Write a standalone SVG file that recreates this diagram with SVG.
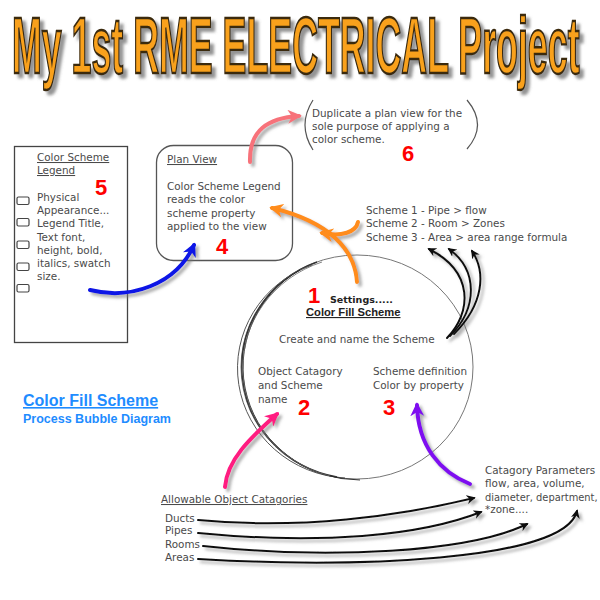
<svg xmlns="http://www.w3.org/2000/svg" width="600" height="600" viewBox="0 0 600 600">
<style>
.t{font-family:"DejaVu Sans","Liberation Sans",sans-serif;font-size:10.4px;fill:#4a4a4a}
.num{font-family:"Liberation Sans",Arial,sans-serif;font-weight:bold;font-size:22px;fill:#ff0000}
.u{text-decoration:underline}
.arr{fill:none;stroke-linecap:round}
</style>
<defs>
<filter id="sh" x="-20%" y="-20%" width="140%" height="140%">
<feDropShadow dx="3" dy="3" stdDeviation="1.8" flood-color="#777" flood-opacity="0.6"/>
</filter>
<filter id="tsh" x="-3%" y="-20%" width="106%" height="150%">
<feDropShadow dx="4" dy="4" stdDeviation="1.5" flood-color="#666" flood-opacity="0.7"/>
</filter>
<marker id="mOr" viewBox="0 0 10 10" refX="8" refY="5" markerWidth="14" markerHeight="14" markerUnits="userSpaceOnUse" orient="auto"><path d="M0,0 L10,5 L0,10 L3,5 z" fill="#ff8c1a"/></marker>
<marker id="mPk" viewBox="0 0 10 10" refX="8" refY="5" markerWidth="14" markerHeight="14" markerUnits="userSpaceOnUse" orient="auto"><path d="M0,0 L10,5 L0,10 L3,5 z" fill="#f7727a"/></marker>
<marker id="mMg" viewBox="0 0 10 10" refX="8" refY="5" markerWidth="14" markerHeight="14" markerUnits="userSpaceOnUse" orient="auto"><path d="M0,0 L10,5 L0,10 L3,5 z" fill="#ff1a80"/></marker>
<marker id="mPu" viewBox="0 0 10 10" refX="8" refY="5" markerWidth="14" markerHeight="14" markerUnits="userSpaceOnUse" orient="auto"><path d="M0,0 L10,5 L0,10 L3,5 z" fill="#7f10f0"/></marker>
<marker id="mBl" viewBox="0 0 10 10" refX="8" refY="5" markerWidth="14" markerHeight="14" markerUnits="userSpaceOnUse" orient="auto"><path d="M0,0 L10,5 L0,10 L3,5 z" fill="#0a14e6"/></marker>
<marker id="mBk" viewBox="0 0 10 10" refX="8" refY="5" markerWidth="9" markerHeight="9" markerUnits="userSpaceOnUse" orient="auto"><path d="M0,0 L10,5 L0,10 L3,5 z" fill="#111"/></marker>
</defs>
<rect width="600" height="600" fill="#ffffff"/>

<g id="title" filter="url(#tsh)">
<text transform="translate(12,73) scale(0.447,1)" x="0" y="0" font-family="Liberation Sans, Arial, sans-serif" font-weight="bold" font-size="80" fill="#f9a11b" stroke="#3a2a10" stroke-width="2.4">My 1st RME ELECTRICAL Project</text>
</g>

<g id="legend">
<rect x="14.5" y="146.5" width="113" height="196" fill="#fff" stroke="#444" stroke-width="1.3"/>
<text class="t u" x="37" y="161">Color Scheme</text>
<text class="t u" x="37" y="174">Legend</text>
<text class="num" x="95" y="195">5</text>
<g fill="none" stroke="#444" stroke-width="1.2">
<rect x="17" y="197" width="12" height="7.5" rx="1.5"/>
<rect x="17" y="218.5" width="12" height="7.5" rx="1.5"/>
<rect x="17" y="241" width="12" height="7.5" rx="1.5"/>
<rect x="17" y="263" width="12" height="7.5" rx="1.5"/>
<rect x="17" y="284.5" width="12" height="7.5" rx="1.5"/>
</g>
<text class="t" x="37" y="201">Physical</text>
<text class="t" x="37" y="214">Appearance...</text>
<text class="t" x="37" y="227">Legend Title,</text>
<text class="t" x="37" y="241">Text font,</text>
<text class="t" x="37" y="254">height, bold,</text>
<text class="t" x="37" y="267">italics, swatch</text>
<text class="t" x="37" y="280">size.</text>
</g>

<g id="planview">
<rect x="156.5" y="145.5" width="136" height="115" rx="17" fill="#fff" stroke="#555" stroke-width="1.3"/>
<text class="t u" x="167" y="163">Plan View</text>
<text class="t" x="167" y="190">Color Scheme Legend</text>
<text class="t" x="167" y="203">reads the color</text>
<text class="t" x="167" y="217">scheme property</text>
<text class="t" x="167" y="230">applied to the view</text>
<text class="num" x="216" y="254">4</text>
</g>

<g id="duplicate">
<path d="M313,100 Q297,125 313,150" fill="none" stroke="#555" stroke-width="1.2"/>
<path d="M467,100 Q488,125 467,149" fill="none" stroke="#555" stroke-width="1.2"/>
<text class="t" x="312" y="117">Duplicate a plan view for the</text>
<text class="t" x="312" y="130">sole purpose of applying a</text>
<text class="t" x="312" y="143">color scheme.</text>
<text class="num" x="402" y="161">6</text>
</g>

<g id="schemes">
<text class="t" x="366" y="214">Scheme 1 - Pipe &gt; flow</text>
<text class="t" x="366" y="227">Scheme 2 - Room &gt; Zones</text>
<text class="t" x="366" y="241">Scheme 3 - Area &gt; area range formula</text>
</g>

<g id="bubble">
<ellipse cx="357" cy="367" rx="116" ry="112" fill="none" stroke="#777" stroke-width="1"/>
<path d="M317,262 A116,112 0 0 0 337,477" fill="none" stroke="#333" stroke-width="1.4"/>
<path d="M312,265 A114,110 0 0 0 345,478" fill="none" stroke="#555" stroke-width="1"/>
<path d="M300,270 A117,113 0 0 0 360,480" fill="none" stroke="#222" stroke-width="0.9"/>
<path d="M322,262 A118,112 0 0 0 330,476" fill="none" stroke="#666" stroke-width="0.8"/>
<text class="num" x="308" y="303">1</text>
<text x="330" y="303" font-family="DejaVu Sans, sans-serif" font-weight="bold" font-size="9.5" fill="#222">Settings.....</text>
<text x="306" y="316" font-family="Liberation Sans, Arial, sans-serif" font-weight="bold" font-size="11.2" fill="#222" text-decoration="underline">Color Fill Scheme</text>
<text class="t" x="279" y="343">Create and name the Scheme</text>
<text class="t" x="258" y="375">Object Catagory</text>
<text class="t" x="258" y="389">and Scheme</text>
<text class="t" x="258" y="403">name</text>
<text class="num" x="298" y="415">2</text>
<text class="t" x="373" y="375">Scheme definition</text>
<text class="t" x="373" y="389">Color by property</text>
<text class="num" x="383" y="415">3</text>
</g>

<g id="caption">
<text x="23" y="406" font-family="Liberation Sans, Arial, sans-serif" font-weight="bold" font-size="16" fill="#1e8cff" text-decoration="underline">Color Fill Scheme </text>
<text x="23" y="423" font-family="Liberation Sans, Arial, sans-serif" font-weight="bold" font-size="12.5" fill="#1e8cff">Process Bubble Diagram</text>
</g>

<g id="categories">
<text class="t u" x="161" y="503">Allowable Object Catagories</text>
<text class="t" x="165" y="522">Ducts</text>
<text class="t" x="165" y="534">Pipes</text>
<text class="t" x="165" y="548">Rooms</text>
<text class="t" x="165" y="561">Areas</text>
</g>

<g id="parameters">
<text class="t" x="485" y="474">Catagory Parameters</text>
<text class="t" x="485" y="487">flow, area, volume,</text>
<text class="t" x="485" y="501" style="font-size:9.9px">diameter, department,</text>
<text class="t" x="485" y="513">*zone....</text>
</g>

<g id="connectors" filter="url(#sh)">
<path class="arr" d="M357,282 C355,250 330,222 272,208" stroke="#ff8c1a" stroke-width="4" marker-end="url(#mOr)"/>
<path class="arr" d="M358,222 C356,232 342,237 322,233" stroke="#ff8c1a" stroke-width="4" marker-end="url(#mOr)"/>
<path class="arr" d="M250,162 C249,130 268,118 299,116" stroke="#f7727a" stroke-width="4" marker-end="url(#mPk)"/>
<path class="arr" d="M90,290 C130,300 176,285 194,245" stroke="#0a14e6" stroke-width="4" marker-end="url(#mBl)"/>
<path class="arr" d="M225,487 C227,460 250,438 277,414" stroke="#ff1a80" stroke-width="4" marker-end="url(#mMg)"/>
<path class="arr" d="M470,484 C440,472 418,446 417,405" stroke="#7f10f0" stroke-width="4" marker-end="url(#mPu)"/>
<path class="arr" d="M447,338 C472,312 474,272 429,249" stroke="#111" stroke-width="2" marker-end="url(#mBk)"/>
<path class="arr" d="M450,336 C478,308 478,270 449,249" stroke="#111" stroke-width="2" marker-end="url(#mBk)"/>
<path class="arr" d="M454,334 C484,304 486,272 472,251" stroke="#111" stroke-width="2" marker-end="url(#mBk)"/>
<path class="arr" d="M198,520 C300,530 400,516 474,498" stroke="#111" stroke-width="2" marker-end="url(#mBk)"/>
<path class="arr" d="M198,533 C320,545 420,536 481,512" stroke="#111" stroke-width="2" marker-end="url(#mBk)"/>
<path class="arr" d="M203,546 C330,560 470,552 527,524" stroke="#111" stroke-width="2" marker-end="url(#mBk)"/>
<path class="arr" d="M198,559 C350,568 565,562 577,511" stroke="#111" stroke-width="2" marker-end="url(#mBk)"/>
</g>
</svg>
